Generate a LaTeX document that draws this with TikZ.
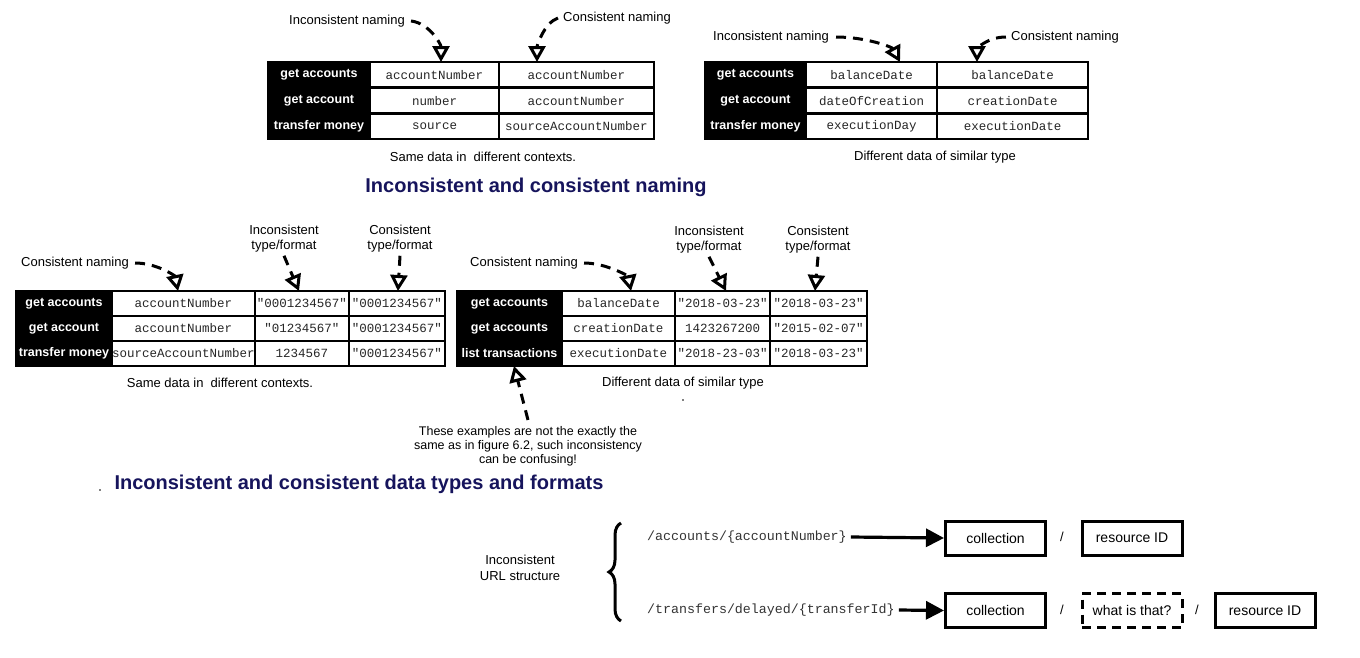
\documentclass[tikz,border=0pt]{standalone}
\usepackage{fontspec}
\setmainfont{Liberation Sans}
\setmonofont{Liberation Mono}
\usetikzlibrary{arrows.meta,decorations.pathreplacing}
\definecolor{navy}{RGB}{22,20,92}
\begin{document}
\begin{tikzpicture}[x=1pt,y=-1pt,
  hdr/.style={fill=black, draw=black, line width=2.5pt, text=white, font=\bfseries\fontsize{12.5}{14}\selectfont, anchor=north west, inner sep=0pt, outer sep=0pt},
  cell/.style={fill=white, draw=black, line width=2.5pt, font=\ttfamily\fontsize{12.5}{14}\selectfont, text=black!85, anchor=north west, inner sep=0pt, outer sep=0pt},
  note/.style={font=\fontsize{13}{15}\selectfont, align=center, inner sep=1pt},
  title/.style={font=\bfseries\fontsize{20}{24}\selectfont, text=navy},
  pointer/.style={line width=3pt, dash pattern=on 10pt off 7pt, -{Triangle[open,length=16pt,width=17pt]}},
  flowarrow/.style={line width=3.2pt, -{Triangle[length=18pt,width=18pt]}},
  box/.style={draw, line width=3pt, minimum width=100pt, minimum height=34pt, font=\fontsize{14}{16}\selectfont, inner sep=0pt},
  url/.style={font=\ttfamily\fontsize{13.3}{15}\selectfont, text=black!80, anchor=west, inner sep=1pt}
]
\useasboundingbox (0,0) rectangle (1360,657);

% ---------- Table 1 ----------
\begin{scope}[every node/.append style={minimum height=25.7pt}]
\node[hdr, minimum width=102pt] (A1h) at (268,62) {get accounts};
\node[cell, minimum width=129pt] (A1a) at (370,62) {accountNumber};
\node[cell, minimum width=155pt] (A1b) at (499,62) {accountNumber};
\node[hdr, minimum width=102pt] (A2h) at (268,87.7) {get account};
\node[cell, minimum width=129pt] (A2a) at (370,87.7) {number};
\node[cell, minimum width=155pt] (A2b) at (499,87.7) {accountNumber};
\node[hdr, minimum width=102pt] (A3h) at (268,113.3) {transfer money};
\node[cell, minimum width=129pt] (A3a) at (370,113.3) {source};
\node[cell, minimum width=155pt] (A3b) at (499,113.3) {sourceAccountNumber};
\end{scope}
\node[note] (l1) at (347,21) {Inconsistent naming};
\node[note] (l2) at (617,18) {Consistent naming};
\draw[pointer] ([xshift=5pt]l1.east) .. controls +(18,2) and +(0,-18) .. ([xshift=71pt]A1a.north west);
\draw[pointer] ([xshift=-4pt]l2.west) .. controls +(-14,5) and +(0,-16) .. ([xshift=38pt]A1b.north west);
\node[note] (c1) at (483,157) {Same data in\ \ different contexts.};

% ---------- Table 2 ----------
\begin{scope}[every node/.append style={minimum height=25.7pt}]
\node[hdr, minimum width=101pt] (B1h) at (705,62) {get accounts};
\node[cell, minimum width=131pt] (B1a) at (806,62) {balanceDate};
\node[cell, minimum width=151pt] (B1b) at (937,62) {balanceDate};
\node[hdr, minimum width=101pt] (B2h) at (705,87.7) {get account};
\node[cell, minimum width=131pt] (B2a) at (806,87.7) {dateOfCreation};
\node[cell, minimum width=151pt] (B2b) at (937,87.7) {creationDate};
\node[hdr, minimum width=101pt] (B3h) at (705,113.3) {transfer money};
\node[cell, minimum width=131pt] (B3a) at (806,113.3) {executionDay};
\node[cell, minimum width=151pt] (B3b) at (937,113.3) {executionDate};
\end{scope}
\node[note] (l3) at (771,37) {Inconsistent naming};
\node[note] (l4) at (1065,37) {Consistent naming};
\draw[pointer] ([xshift=6pt]l3.east) .. controls +(30,0) and +(-8,-15) .. ([xshift=94pt]B1a.north west);
\draw[pointer] ([xshift=-4pt]l4.west) .. controls +(-20,0) and +(0,-12) .. ([xshift=40pt]B1b.north west);
\node[note] (c2) at (935,157) {Different data of similar type};

\node[title] (t1) at (536,187) {Inconsistent and consistent naming};

% ---------- Table 3 ----------
\begin{scope}[every node/.append style={minimum height=25pt}]
\node[hdr, minimum width=96pt] (C1h) at (16,291) {get accounts};
\node[cell, minimum width=143pt] (C1a) at (112,291) {accountNumber};
\node[cell, minimum width=94pt] (C1b) at (255,291) {"0001234567"};
\node[cell, minimum width=96pt] (C1c) at (349,291) {"0001234567"};
\node[hdr, minimum width=96pt] (C2h) at (16,316) {get account};
\node[cell, minimum width=143pt] (C2a) at (112,316) {accountNumber};
\node[cell, minimum width=94pt] (C2b) at (255,316) {"01234567"};
\node[cell, minimum width=96pt] (C2c) at (349,316) {"0001234567"};
\node[hdr, minimum width=96pt] (C3h) at (16,341) {transfer money};
\node[cell, minimum width=143pt] (C3a) at (112,341) {sourceAccountNumber};
\node[cell, minimum width=94pt] (C3b) at (255,341) {1234567};
\node[cell, minimum width=96pt] (C3c) at (349,341) {"0001234567"};
\end{scope}
\node[note] (l5) at (75,263) {Consistent naming};
\node[note] (l6) at (284,239) {Inconsistent\\type/format};
\node[note] (l7) at (400,239) {Consistent\\type/format};
\draw[pointer] ([xshift=5pt]l5.east) .. controls +(22,0) and +(-3,-15) .. ([xshift=66pt]C1a.north west);
\draw[pointer] ([yshift=-2pt]l6.south) -- ([xshift=44pt]C1b.north west);
\draw[pointer] ([yshift=-2pt]l7.south) -- ([xshift=49pt]C1c.north west);
\node[note] (c3) at (220,383) {Same data in\ \ different contexts.};

% ---------- Table 4 ----------
\begin{scope}[every node/.append style={minimum height=25pt}]
\node[hdr, minimum width=105pt] (D1h) at (457,291) {get accounts};
\node[cell, minimum width=113pt] (D1a) at (562,291) {balanceDate};
\node[cell, minimum width=95pt] (D1b) at (675,291) {"2018-03-23"};
\node[cell, minimum width=97pt] (D1c) at (770,291) {"2018-03-23"};
\node[hdr, minimum width=105pt] (D2h) at (457,316) {get accounts};
\node[cell, minimum width=113pt] (D2a) at (562,316) {creationDate};
\node[cell, minimum width=95pt] (D2b) at (675,316) {1423267200};
\node[cell, minimum width=97pt] (D2c) at (770,316) {"2015-02-07"};
\node[hdr, minimum width=105pt] (D3h) at (457,341) {list transactions};
\node[cell, minimum width=113pt] (D3a) at (562,341) {executionDate};
\node[cell, minimum width=95pt] (D3b) at (675,341) {"2018-23-03"};
\node[cell, minimum width=97pt] (D3c) at (770,341) {"2018-03-23"};
\end{scope}
\node[note] (l8) at (524,263) {Consistent naming};
\node[note] (l9) at (709,240) {Inconsistent\\type/format};
\node[note] (l10) at (818,240) {Consistent\\type/format};
\draw[pointer] ([xshift=5pt]l8.east) .. controls +(22,0) and +(-3,-15) .. ([xshift=69pt]D1a.north west);
\draw[pointer] ([yshift=-2pt]l9.south) -- ([xshift=51pt]D1b.north west);
\draw[pointer] ([yshift=-2pt]l10.south) -- ([xshift=45pt]D1c.north west);
\node[note] (c4) at (683,383) {Different data of similar type};
\fill (683,400) circle (0.8);

\node[note, font=\fontsize{12.5}{14}\selectfont] (n1) at (528,446) {These examples are not the exactly the\\same as in figure 6.2, such inconsistency\\can be confusing!};
\draw[pointer] ([yshift=5pt]n1.north) -- ([xshift=57pt]D3h.south west);

\fill (100,490) circle (0.8);
\node[title] (t2) at (359,484) {Inconsistent and consistent data types and formats};

% ---------- URL structure ----------
\node[note, font=\fontsize{13}{16}\selectfont] (u0) at (520,568) {Inconsistent\\URL structure};
\draw[decorate, decoration={brace, amplitude=12pt}, line width=3pt] (621,621) -- (621,523);
\node[url] (p1) at (646,537) {/accounts/\{accountNumber\}};
\node[url] (p2) at (646,610) {/transfers/delayed/\{transferId\}};
\node[box] (b1) at (995.5,538) {collection};
\node[box] (b2) at (1132,538) {resource ID};
\node[box] (b3) at (995.5,610.5) {collection};
\node[box, dash pattern=on 9pt off 6pt] (b4) at (1132,610.5) {what is that?};
\node[box] (b5) at (1265,610.5) {resource ID};
\node[note] (s1) at (1062,537) {/};
\node[note] (s2) at (1062,610) {/};
\node[note] (s3) at (1197,610) {/};
\draw[flowarrow] ([xshift=3pt]p1.east) -- (b1.west);
\draw[flowarrow] ([xshift=3pt]p2.east) -- (b3.west);
\end{tikzpicture}
\end{document}
